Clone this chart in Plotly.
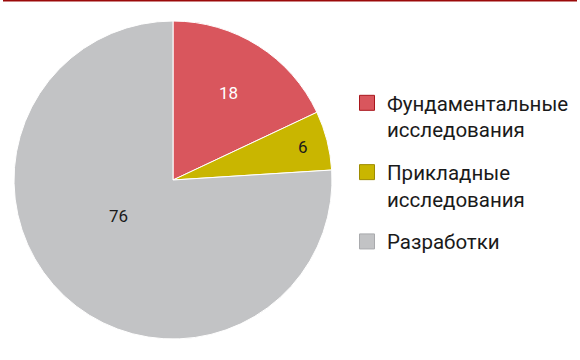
import plotly.graph_objects as go

labels = ["Фундаментальные<br>исследования", "Прикладные<br>исследования", "Разработки"]
values = [18, 6, 76]
colors = ["#D9565D", "#C9B600", "#C2C3C5"]
edge_colors = ["#A8161C", "#9E8C00", "#A9AAAD"]
text_colors = ["#FFFFFF", "#1A1A1A", "#1A1A1A"]
text_templates = ["%{value}", "%{value}", "%{value}<br> <br> "]

W, H = 580, 360
fig = go.Figure()
fig.add_trace(go.Pie(
    labels=labels, values=values, sort=False, direction="clockwise", rotation=0,
    marker=dict(colors=colors, line=dict(color="#FFFFFF", width=1)),
    texttemplate=text_templates, textposition="inside",
    insidetextfont=dict(family="Roboto", size=17, color=text_colors),
    insidetextorientation="horizontal",
    domain=dict(x=[14 / W, 332 / W], y=[(H - 339) / H, (H - 21) / H]),
    hoverinfo="label+value", showlegend=False,
))
# legend entries (one per category)
for i, (lab, col) in enumerate(zip(labels, colors)):
    fig.add_trace(go.Scatter(
        x=[None], y=[None], mode="markers", name=lab, legendgroup=f"g{i}",
        marker=dict(symbol="square", size=15, color=col, line=dict(color=edge_colors[i], width=1)),
        hoverinfo="skip",
    ))
fig.add_shape(type="line", xref="paper", yref="paper", x0=3 / W, x1=577 / W, y0=1 - 0.5 / H, y1=1 - 0.5 / H,
              line=dict(color="#9B0A0A", width=2))
fig.add_annotation(text="Источник: Росстат", xref="paper", yref="paper", x=3 / W, y=1 - 355 / H,
                   xanchor="left", yanchor="top", showarrow=False,
                   font=dict(family="Roboto", size=15, color="#1A1A1A"))
fig.update_layout(
    width=W, height=H, margin=dict(l=0, r=0, t=0, b=0),
    paper_bgcolor="#FFFFFF", plot_bgcolor="#FFFFFF",
    font=dict(family="Roboto", size=16, color="#1A1A1A"),
    xaxis=dict(visible=False), yaxis=dict(visible=False),
    legend=dict(x=347 / W, y=1 - 83 / H, xanchor="left", yanchor="top",
                font=dict(family="Roboto", size=20.5, color="#1A1A1A"),
                valign="top", itemwidth=30, tracegroupgap=13, traceorder="grouped"),
    showlegend=True,
)
fig.write_html("out.html")
